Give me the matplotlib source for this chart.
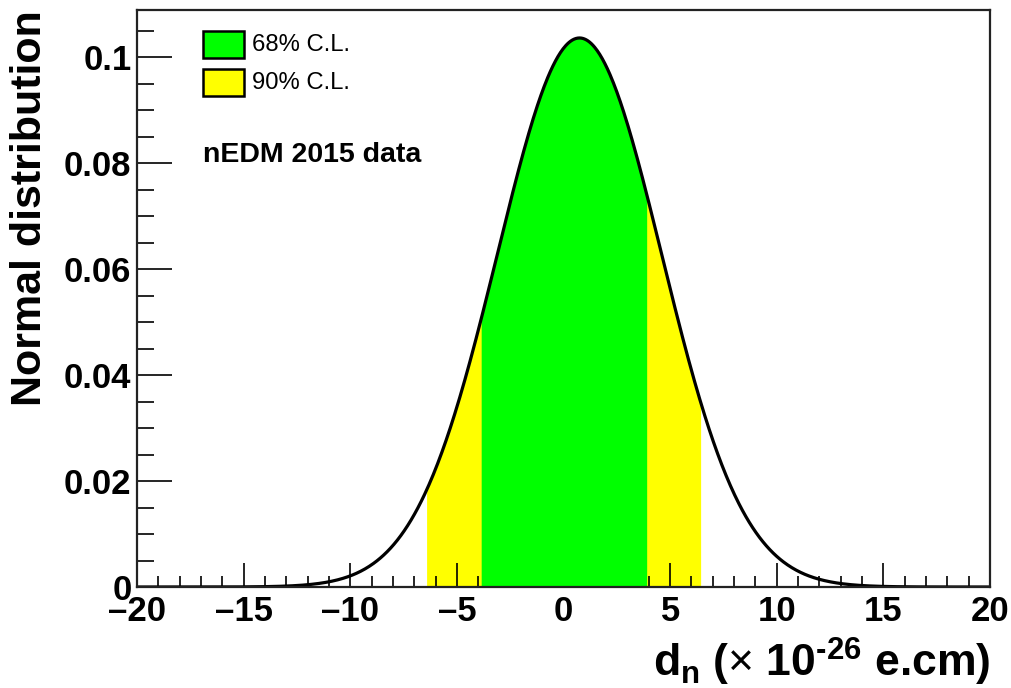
import numpy as np
import matplotlib
matplotlib.use("Agg")
import matplotlib.pyplot as plt
from matplotlib.patches import Rectangle
from matplotlib.ticker import MultipleLocator

# ---- data ----
mean_dn = 0.75          # peak position (x 1e-26 e.cm)
sigma_dn = 3.85         # width of the normal distribution
cl68_range = [-3.86, 3.90]
cl90_range = [-6.42, 6.43]
x_range = [-20, 20]
y_range = [0, 0.1089]
legend_labels = ["68% C.L.", "90% C.L."]
legend_colors = ["#00ff00", "#ffff00"]
annotation = "nEDM 2015 data"
y_ticks = [0, 0.02, 0.04, 0.06, 0.08, 0.1]
y_ticklabels = ["0", "0.02", "0.04", "0.06", "0.08", "0.1"]
x_ticks = [-20, -15, -10, -5, 0, 5, 10, 15, 20]

plt.rcParams['font.family'] = ['Liberation Sans', 'DejaVu Sans']
plt.rcParams['mathtext.fontset'] = 'custom'
plt.rcParams['mathtext.rm'] = 'Liberation Sans:bold'
plt.rcParams['mathtext.it'] = 'Liberation Sans:bold'
plt.rcParams['mathtext.bf'] = 'Liberation Sans:bold'
plt.rcParams['mathtext.sf'] = 'Liberation Sans'


def pdf(x):
    return np.exp(-0.5 * ((x - mean_dn) / sigma_dn) ** 2) / (np.sqrt(2 * np.pi) * sigma_dn)


fig = plt.figure(figsize=(10.12, 6.88), dpi=100)
ax = fig.add_axes([137 / 1012, 1 - 587 / 688, (990 - 137) / 1012, (587 - 10) / 688])

# bands
x90 = np.linspace(cl90_range[0], cl90_range[1], 400)
ax.fill_between(x90, 0, pdf(x90), color=legend_colors[1], lw=0, zorder=1)
x68 = np.linspace(cl68_range[0], cl68_range[1], 400)
ax.fill_between(x68, 0, pdf(x68), color=legend_colors[0], lw=0, zorder=2)

xs = np.linspace(x_range[0], x_range[1], 1000)
ax.plot(xs, pdf(xs), color='black', lw=2.3, zorder=3)

ax.set_xlim(*x_range)
ax.set_ylim(*y_range)

ax.set_xticks(x_ticks)
ax.set_xticklabels([f"{t}".replace('-', '\u2013') for t in x_ticks])
ax.xaxis.set_minor_locator(MultipleLocator(1))
ax.set_yticks(y_ticks)
ax.set_yticklabels(y_ticklabels)
ax.yaxis.set_minor_locator(MultipleLocator(0.005))

ax.tick_params(axis='x', which='major', direction='in', length=17, width=1.2, pad=6,
               labelsize=25, top=False)
ax.tick_params(axis='x', which='minor', direction='in', length=8, width=1.2, top=False)
ax.tick_params(axis='y', which='major', direction='in', length=25, width=1.2, pad=4,
               labelsize=25, right=False)
ax.tick_params(axis='y', which='minor', direction='in', length=12, width=1.2, right=False)
for lab in ax.get_xticklabels() + ax.get_yticklabels():
    lab.set_fontweight('bold')
for sp in ax.spines.values():
    sp.set_linewidth(1.6)
    sp.set_color('#222222')
    sp.set_zorder(5)

# axis titles
fig.text(30 / 1012, 1 - 10 / 688, "Normal distribution", rotation=90, ha='center', va='top',
         fontsize=31, fontweight='bold')
fig.text(990 / 1012, 1 - 677 / 688, r"$d_{n}$ ($\mathsf{\times}$ 10$^{\text{-26}}$ e.cm)",
         ha='right', va='baseline', fontsize=32, fontweight='bold')

# legend
for i, (lab, col) in enumerate(zip(legend_labels, legend_colors)):
    y_top = 31 + i * 38
    fig.patches.append(Rectangle((203 / 1012, 1 - (y_top + 27) / 688), 41 / 1012, 27 / 688,
                                 transform=fig.transFigure, facecolor=col, edgecolor='black',
                                 lw=1.8, zorder=6))
    fig.text(252 / 1012, 1 - (y_top + 14) / 688, lab, ha='left', va='center', fontsize=17.2)

fig.text(203 / 1012, 1 - 155 / 688, annotation, ha='left', va='center', fontsize=20.5,
         fontweight='bold')

fig.savefig("out.png", dpi=100)
